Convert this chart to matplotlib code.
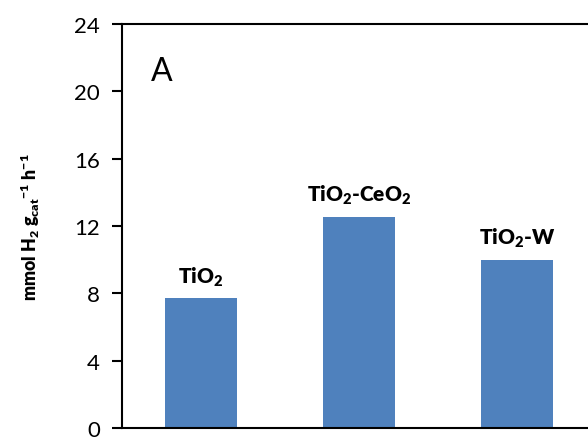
import matplotlib
matplotlib.use("Agg")
import matplotlib.pyplot as plt

plt.rcParams['font.family'] = ['Lato', 'DejaVu Sans']
plt.rcParams['mathtext.fontset'] = 'custom'
plt.rcParams['mathtext.rm'] = 'Lato:weight=heavy'
plt.rcParams['mathtext.it'] = 'Lato:weight=heavy'
plt.rcParams['mathtext.bf'] = 'Lato:weight=heavy'
plt.rcParams['mathtext.default'] = 'regular'

# data
catalysts = ['TiO$_2$', 'TiO$_2$-CeO$_2$', 'TiO$_2$-W']
h2_rate = [7.7, 12.55, 10.0]
y_ticks = [0, 4, 8, 12, 16, 20, 24]

fig = plt.figure(figsize=(5.88, 4.39), dpi=100)
# axes runs past the right edge, as in the cropped original
ax = fig.add_axes([122 / 588, 10 / 439, 474 / 588, 404 / 439])

x = range(len(catalysts))
ax.bar(x, h2_rate, width=0.46, color='#4F81BD')

for xi, val, name in zip(x, h2_rate, catalysts):
    ax.text(xi, val + 0.62, name, ha='center', va='bottom',
            fontsize=15, fontweight='heavy')

ax.set_xlim(-0.5, 2.5)
ax.set_ylim(0, 24)
ax.set_yticks(y_ticks)
ax.set_xticks([])
ax.tick_params(axis='y', direction='out', length=7, width=1.5,
               labelsize=16, pad=9)
for s in ax.spines.values():
    s.set_linewidth(1.5)

ax.set_ylabel('mmol H$_2$ g$_{cat}$$^{-1}$ h$^{-1}$', fontsize=12.8,
              fontweight='heavy')
ax.yaxis.set_label_coords(-0.168, 0.50)
ax.text(0.062, 0.884, 'A', transform=ax.transAxes, fontsize=23,
        va='center', ha='left')

fig.savefig('out.png', dpi=100)
